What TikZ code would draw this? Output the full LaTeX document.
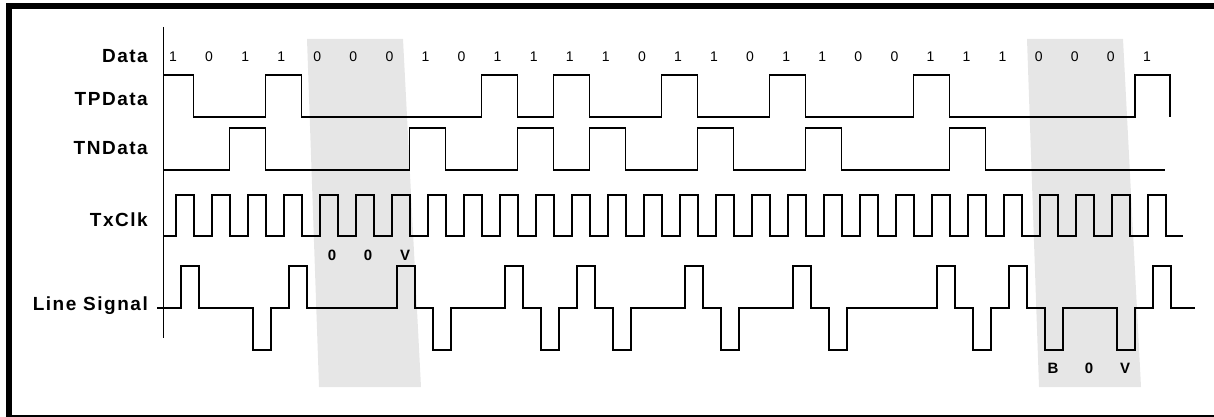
\documentclass[tikz,border=0pt]{standalone}
\usepackage{fontspec}
\setmainfont{Liberation Sans}
\newfontfamily\rowfont[LetterSpace=8]{Liberation Sans}
\definecolor{shadegray}{RGB}{230,230,230}
\usepackage{tikz}
\usetikzlibrary{positioning,calc}

\tikzset{
    wave/.style={line width=1.6pt, line join=miter},
    rowlabel/.style={anchor=base east, inner sep=0pt, font=\rowfont\bfseries\fontsize{19}{21}\selectfont},
    bitlabel/.style={anchor=base, inner sep=0pt, font=\fontsize{14}{16}\selectfont},
    codelabel/.style={anchor=base, inner sep=0pt, font=\bfseries\fontsize{15}{17}\selectfont}
}

\begin{document}
\begin{tikzpicture}[x=1pt, y=-1pt]
    \useasboundingbox (0,0) rectangle (1214,417);
    \clip (0,0) rectangle (1214,417);

    % substitution windows
    \fill[shadegray] (307,39) -- (403,39) -- (421,387) -- (319,387) -- cycle;
    \fill[shadegray] (1027,39) -- (1123,39) -- (1141,387) -- (1039,387) -- cycle;

    % frame and time axis
    \draw[line width=6pt] (9,6) rectangle (1230,418);
    \draw[line width=1pt] (163,27) -- (163,338);

    % row names
    \node[rowlabel] (dataLbl) at (148,63) {Data};
    \node[rowlabel] (tpLbl) at (148,106) {TPData};
    \node[rowlabel] (tnLbl) at (148,154) {TNData};
    \node[rowlabel] (clkLbl) at (148,226) {TxClk};
    \node[rowlabel] (lineLbl) at (148,310) {Line Signal};

    % data bits
    \foreach \b [count=\i from 0] in {1,0,1,1,0,0,0,1,0,1,1,1,1,0,1,1,0,1,1,0,0,1,1,1,0,0,0,1}
        \node[bitlabel] (bit\i) at ({173+36.07*\i},62) {\b};

    % TPData
    \draw[wave] (163,75) -- (193.5,75) -- (193.5,117)
        \foreach \k in {3,9,11,14,17,21} { -- ({157.5+36*\k},117) -- ++(0,-42) -- ++(36,0) -- ++(0,42) }
        -- (1135,117) -- (1135,75) -- (1170,75) -- (1170,117);

    % TNData
    \draw[wave] (163,170)
        \foreach \k in {2,7,10,12,15,18,22} { -- ({157.5+36*\k},170) -- ++(0,-42) -- ++(36,0) -- ++(0,42) }
        -- (1165,170);

    % TxClk
    \draw[wave] (163,236)
        \foreach \i in {0,...,27} { -- ({176+36*\i},236) -- ++(0,-41) -- ++(18,0) -- ++(0,41) }
        -- (1183,236);

    % Line Signal
    \draw[wave] (157,308)
        \foreach \i/\s in {0/1,2/-1,3/1,6/1,7/-1,9/1,10/-1,11/1,12/-1,14/1,15/-1,17/1,18/-1,21/1,22/-1,23/1,24/-1,26/-1,27/1}
            { -- ({181+36*\i},308) -- ++(0,-42*\s) -- ++(18,0) -- ++(0,42*\s) }
        -- (1195,308);

    % substitution codes
    \node[codelabel] (subA1) at (332,260) {0};
    \node[codelabel] (subA2) at (368,260) {0};
    \node[codelabel] (subA3) at (405,260) {V};
    \node[codelabel] (subB1) at (1053,373) {B};
    \node[codelabel] (subB2) at (1089,373) {0};
    \node[codelabel] (subB3) at (1125,373) {V};
\end{tikzpicture}
\end{document}
